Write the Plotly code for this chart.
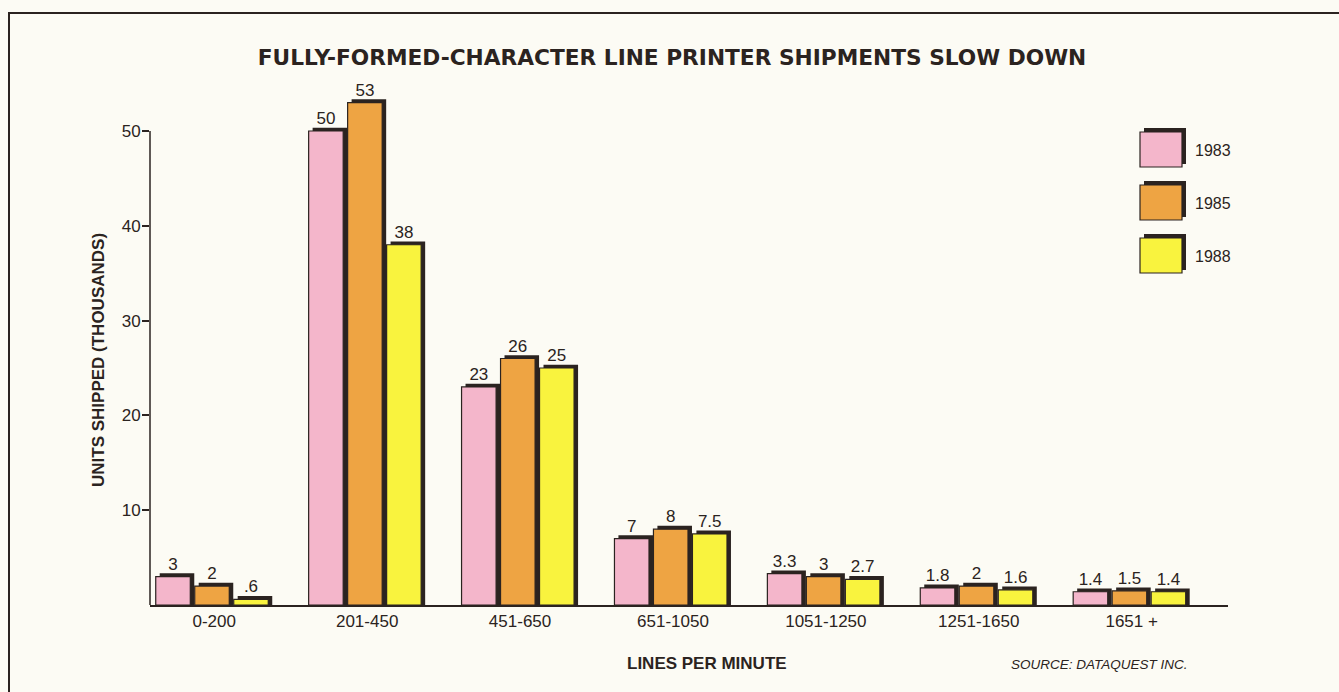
import plotly.graph_objects as go

categories = ["0-200", "201-450", "451-650", "651-1050", "1051-1250", "1251-1650", "1651 +"]
years = ["1983", "1985", "1988"]
v1983 = [3, 50, 23, 7, 3.3, 1.8, 1.4]
v1985 = [2, 53, 26, 8, 3, 2, 1.5]
v1988 = [0.6, 38, 25, 7.5, 2.7, 1.6, 1.4]
series = [v1983, v1985, v1988]
colors = ["#f4b6cb", "#eea443", "#f9f33e"]
y_ticks = [10, 20, 30, 40, 50]

INK = "#2b2320"
BG = "#fcfbf4"
FONT = "Liberation Sans, Arial, sans-serif"
TFONT = "DejaVu Sans, Liberation Sans, sans-serif"

# plot-area geometry (pixels)
L, R, T, B = 150, 1228, 73, 605
W, H = 1339, 692


def px2x(px):
    return (px - L) / (R - L)


def py2y(py):
    return (B - py) / (B - T)


def fmt(v):
    s = f"{v:g}"
    return s[1:] if s.startswith("0.") else s


slot = 0.255
bw = 0.226
sh = 0.026
offsets = [-1.5 * slot, -0.5 * slot, 0.5 * slot]

fig = go.Figure()
# shadows
for i, vals in enumerate(series):
    fig.add_trace(go.Bar(
        x=categories, y=[v + 0.35 for v in vals], offset=offsets[i] + sh, width=bw,
        marker=dict(color=INK, line=dict(width=0)), showlegend=False, hoverinfo="skip"))
# bars
for i, vals in enumerate(series):
    fig.add_trace(go.Bar(
        x=categories, y=vals, offset=offsets[i], width=bw, name=years[i],
        marker=dict(color=colors[i], line=dict(color=INK, width=1.2)),
        text=[fmt(v) for v in vals], textposition="outside", cliponaxis=False,
        textfont=dict(family=FONT, size=17, color=INK), showlegend=False))

shapes = []
# y axis line up to 50
shapes.append(dict(type="line", xref="paper", yref="y", x0=0, x1=0, y0=0, y1=max(y_ticks),
                   line=dict(color=INK, width=1.5)))
# border
shapes.append(dict(type="rect", xref="paper", yref="paper", x0=px2x(9), x1=px2x(1400),
                   y0=py2y(760), y1=py2y(13), line=dict(color=INK, width=2)))
annotations = []
# legend
for i, yr in enumerate(years):
    top = 128 + 53 * i
    shapes.append(dict(type="rect", xref="paper", yref="paper", x0=px2x(1144), x1=px2x(1186),
                       y0=py2y(top + 36), y1=py2y(top), fillcolor=INK, line=dict(width=0)))
    shapes.append(dict(type="rect", xref="paper", yref="paper", x0=px2x(1140), x1=px2x(1182),
                       y0=py2y(top + 39), y1=py2y(top + 4), fillcolor=colors[i],
                       line=dict(color=INK, width=1.2)))
    annotations.append(dict(text=yr, xref="paper", yref="paper", x=px2x(1193), y=py2y(top + 22),
                            xanchor="left", yanchor="middle", showarrow=False,
                            font=dict(family=FONT, size=16, color=INK)))

annotations.append(dict(text="<b>UNITS SHIPPED (THOUSANDS)</b>", textangle=-90, xref="paper",
                        yref="paper", x=px2x(98), y=py2y(360), showarrow=False,
                        xanchor="center", yanchor="middle",
                        font=dict(family=FONT, size=17, color=INK)))
annotations.append(dict(text="<b>LINES PER MINUTE</b>", xref="paper", yref="paper",
                        x=px2x(707), y=py2y(663), showarrow=False, xanchor="center",
                        yanchor="middle", font=dict(family=FONT, size=17, color=INK)))
annotations.append(dict(text="<i>SOURCE: DATAQUEST INC.</i>", xref="paper", yref="paper",
                        x=px2x(1009), y=py2y(664), showarrow=False, xanchor="left",
                        yanchor="middle", font=dict(family=FONT, size=13.5, color=INK)))

fig.update_layout(
    width=W, height=H,
    margin=dict(l=L, r=W - R, t=T, b=H - B),
    paper_bgcolor=BG, plot_bgcolor=BG,
    barmode="overlay",
    title=dict(text="<b>FULLY-FORMED-CHARACTER LINE PRINTER SHIPMENTS SLOW DOWN</b>",
               x=672 / W, xanchor="center", y=1 - 57 / H, yanchor="middle",
               font=dict(family=TFONT, size=21.7, color=INK)),
    shapes=shapes, annotations=annotations,
)
fig.update_xaxes(range=[-0.42, 6.63], showline=True, linecolor=INK, linewidth=1.5,
                 ticks="", showgrid=False, zeroline=False,
                 tickfont=dict(family=FONT, size=17, color=INK))
fig.update_yaxes(range=[0, (B - T) / 9.48], tickvals=y_ticks, ticks="outside", ticklen=7,
                 tickcolor=INK, tickwidth=1.5, showline=False, showgrid=False, zeroline=False,
                 ticklabelstandoff=-2,
                 tickfont=dict(family=FONT, size=17, color=INK))

fig.write_html("out.html", config={"displayModeBar": False},
               post_script="document.body.style.margin='0';document.body.style.overflow='hidden';")
